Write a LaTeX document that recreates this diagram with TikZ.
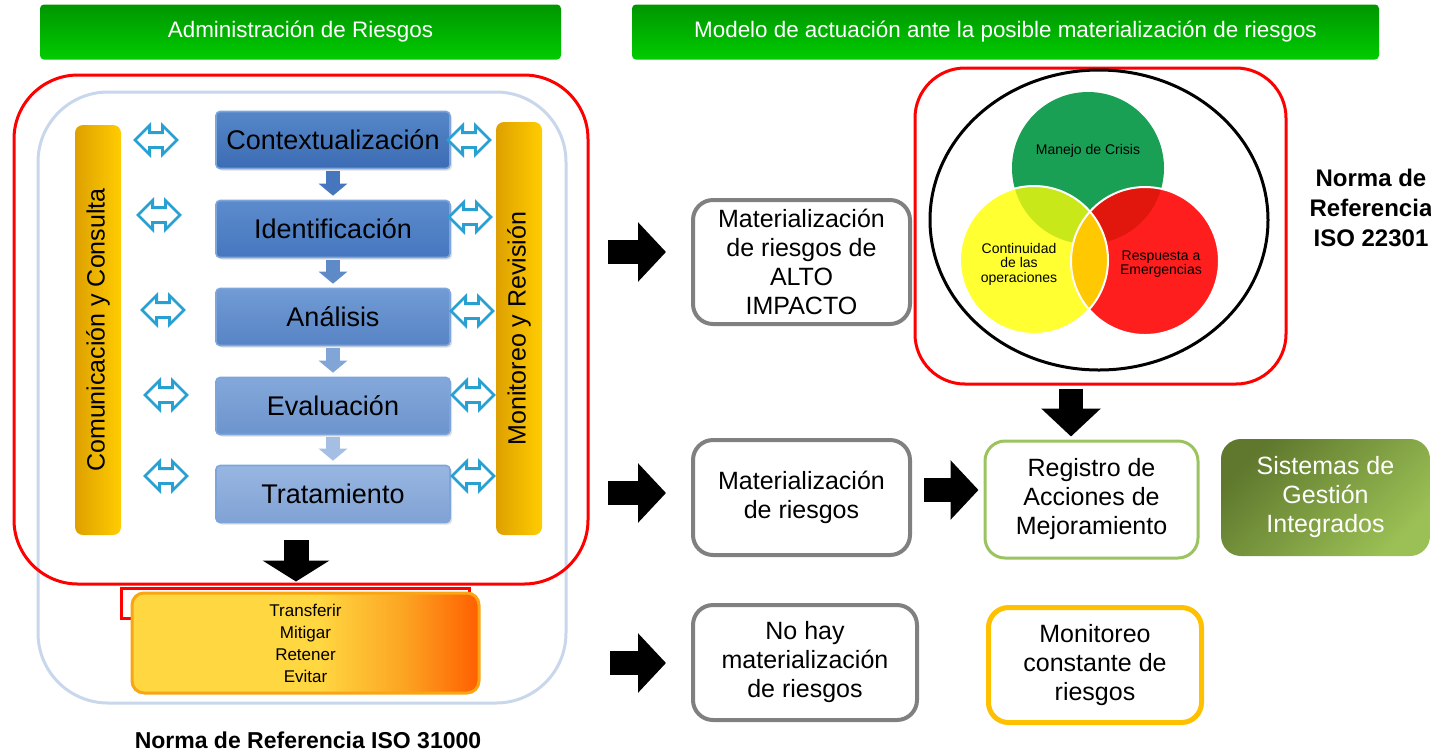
\documentclass[tikz,border=0pt]{standalone}
\usepackage{fontspec}
\setmainfont{Liberation Sans}
\usetikzlibrary{shapes.arrows,arrows.meta,shadows}

\definecolor{hdA}{RGB}{0,150,0}
\definecolor{hdB}{RGB}{0,205,0}
\definecolor{stEdge}{RGB}{125,165,220}
\definecolor{ctxA}{RGB}{85,135,200}
\definecolor{ctxB}{RGB}{60,108,180}
\definecolor{ideA}{RGB}{92,140,205}
\definecolor{ideB}{RGB}{70,118,190}
\definecolor{anaA}{RGB}{112,155,212}
\definecolor{anaB}{RGB}{88,132,198}
\definecolor{evaA}{RGB}{132,168,218}
\definecolor{evaB}{RGB}{108,148,205}
\definecolor{traA}{RGB}{152,182,225}
\definecolor{traB}{RGB}{128,162,212}
\definecolor{barA}{RGB}{255,205,0}
\definecolor{barB}{RGB}{222,160,0}
\definecolor{lnk}{RGB}{40,160,210}
\definecolor{chevA}{RGB}{70,118,190}
\definecolor{chevB}{RGB}{95,138,200}
\definecolor{chevC}{RGB}{130,165,215}
\definecolor{chevD}{RGB}{165,190,228}
\definecolor{paleBlue}{RGB}{200,215,235}
\definecolor{optY}{RGB}{255,215,65}
\definecolor{optM}{RGB}{252,165,35}
\definecolor{optR}{RGB}{255,95,0}
\definecolor{optEdge}{RGB}{250,165,20}
\definecolor{outGray}{RGB}{128,128,128}
\definecolor{regGreen}{RGB}{155,195,95}
\definecolor{monOrange}{RGB}{255,192,0}
\definecolor{sisA}{RGB}{95,120,45}
\definecolor{sisB}{RGB}{155,192,85}
\definecolor{vGreen}{RGB}{25,160,85}
\definecolor{vYellow}{RGB}{255,255,50}
\definecolor{vRed}{RGB}{255,30,30}
\definecolor{vGY}{RGB}{200,232,25}
\definecolor{vGR}{RGB}{225,22,12}
\definecolor{vYR}{RGB}{255,200,0}

\pgfdeclarehorizontalshading{optshade}{100bp}{color(0bp)=(optY); color(52bp)=(optY); color(64bp)=(optM); color(75bp)=(optR); color(100bp)=(optR)}

\begin{document}
\begin{tikzpicture}[x=0.5pt,y=-0.5pt,
    head/.style={rounded corners=2pt, top color=hdA, bottom color=hdB, text=white, minimum height=27.5pt, font=\fontsize{11.2}{13}\selectfont},
    stage/.style={draw=stEdge, line width=0.8pt, rounded corners=2pt, minimum width=117pt, minimum height=28.5pt, font=\fontsize{13.5}{16}\selectfont, drop shadow={opacity=0.25, shadow xshift=1pt, shadow yshift=-1pt}},
    bar/.style={rotate=90, rounded corners=4pt, left color=barB, right color=barA, minimum height=23pt, font=\fontsize{12.5}{15}\selectfont},
    link/.style={double arrow, draw=lnk, line width=1.4pt, fill=white, minimum height=21pt, minimum width=0pt, inner xsep=0pt, inner ysep=3pt, double arrow head extend=3.6pt},
    chev/.style={line width=7pt, -{Triangle[length=6pt, width=14pt]}, shorten <=1pt, shorten >=2pt},
    fat/.style={line width=12pt, -{Triangle[length=14pt, width=29pt]}},
    fatdn/.style={line width=12.5pt, -{Triangle[length=10.5pt, width=33pt]}},
    opt/.style={draw=optEdge, line width=1.5pt, rounded corners=6pt, shade, shading=optshade, minimum width=173.5pt, minimum height=50pt, align=center, font=\fontsize{8.5}{11}\selectfont},
    outbox/.style={draw=outGray, line width=2pt, rounded corners=10pt, fill=white, align=center, inner sep=2pt, font=\fontsize{12.5}{14.5}\selectfont},
    vlab/.style={align=center, inner sep=0pt, font=\fontsize{7}{7.3}\selectfont},
    norma/.style={align=center, font=\fontsize{11.5}{14}\selectfont\bfseries}]
      \useasboundingbox (0,0) rectangle (1431,752);
      \node[head, minimum width=260.5pt] (adm) at (300.5,32) {Administración de Riesgos};
      \node[head, minimum width=373.5pt] (mod) at (1005.5,32) {Modelo de actuación ante la posible materialización de riesgos};
      \draw[paleBlue, line width=1.5pt, rounded corners=35pt] (38,92) rectangle (566,703);
      \draw[red, line width=1.5pt, rounded corners=32pt] (14,75) rectangle (588,584);
      \node[bar, minimum width=205pt] (com) at (98,330) {Comunicación y Consulta};
      \node[bar, minimum width=206.5pt] (rev) at (519,328.5) {Monitoreo y Revisión};
      \node[stage, top color=ctxA, bottom color=ctxB] (ctx) at (333,140) {Contextualización};
      \node[stage, top color=ideA, bottom color=ideB] (ide) at (333,229) {Identificación};
      \node[stage, top color=anaA, bottom color=anaB] (ana) at (333,317) {Análisis};
      \node[stage, top color=evaA, bottom color=evaB] (eva) at (333,406) {Evaluación};
      \node[stage, top color=traA, bottom color=traB] (tra) at (333,494) {Tratamiento};
      \node[link] (l1) at (156,140) {};
      \node[link] (l2) at (159,215) {};
      \node[link] (l3) at (163,310) {};
      \node[link] (l4) at (166,395) {};
      \node[link] (l5) at (166,476) {};
      \node[link] (r1) at (469,140) {};
      \node[link] (r2) at (470,217) {};
      \node[link] (r3) at (472,311) {};
      \node[link] (r4) at (473,395) {};
      \node[link] (r5) at (473,476) {};
      \path (ctx) edge[chev, chevA] (ide);
      \path (ide) edge[chev, chevB] (ana);
      \path (ana) edge[chev, chevC] (eva);
      \path (eva) edge[chev, chevD] (tra);
      \draw[red, line width=1.5pt] (121,588) rectangle (469,618);
      \node[opt] (opts) at (305.5,643) {Transferir\\Mitigar\\Retener\\Evitar};
      \coordinate (d0) at (296,540);
      \path (d0) edge[fatdn, shorten >=5pt] (d0 |- opts.north);
      \node[norma] (iso31) at (308,740) {Norma de Referencia ISO 31000};

      \node[draw=red, line width=1.5pt, rounded corners=25pt, minimum width=185.5pt, minimum height=158pt] (frame) at (1100.5,226) {};
      \draw[line width=1.5pt] (1099,220) ellipse (169 and 150);
      \fill[vGreen] (1088,168) circle (76);
      \fill[vYellow] (1034,260) circle (74);
      \fill[vRed] (1145,261) circle (74);
      \begin{scope}
        \clip (1088,168) circle (76);
        \fill[vGY] (1034,260) circle (74);
        \fill[vGR] (1145,261) circle (74);
      \end{scope}
      \begin{scope}
        \clip (1034,260) circle (74);
        \fill[vYR] (1145,261) circle (74);
      \end{scope}
      \draw[white, line width=1pt] (1034,260) circle (74);
      \draw[white, line width=1pt] (1145,261) circle (74);
      \node[vlab] (crisis) at (1088,151) {Manejo de Crisis};
      \node[vlab] (cont) at (1019,264) {Continuidad\\de las\\operaciones};
      \node[vlab] (resp) at (1161,264) {Respuesta a\\Emergencias};
      \node[norma, font=\fontsize{12}{15}\selectfont\bfseries] (iso22) at (1371,208) {Norma de\\Referencia\\ISO 22301};

      \node[outbox, minimum width=108.5pt, minimum height=62pt] (alto) at (801.5,262) {Materialización\\de riesgos de\\ALTO\\IMPACTO};
      \node[outbox, minimum width=108.5pt, minimum height=57.5pt] (mat) at (801.5,497.5) {Materialización\\de riesgos};
      \node[outbox, minimum width=112pt, minimum height=57.5pt] (noh) at (805,662.5) {No hay\\materialización\\de riesgos};
      \node[outbox, draw=regGreen, line width=1.5pt, minimum width=106.5pt, minimum height=58.5pt] (reg) at (1091.5,499.5) {Registro de\\Acciones de\\Mejoramiento};
      \node[outbox, draw=none, top color=sisA, bottom color=sisB, shading angle=45, text=white, minimum width=104.5pt, minimum height=58.5pt] (sis) at (1325.5,497.5) {Sistemas de\\Gestión\\Integrados};
      \node[outbox, draw=monOrange, line width=2.5pt, minimum width=106.5pt, minimum height=57.5pt] (mon) at (1095,665) {Monitoreo\\constante de\\riesgos};
      \coordinate (p1) at (608,252);
      \coordinate (p2) at (608,493);
      \coordinate (p3) at (610,663);
      \path (p1) edge[fat, shorten >=12.5pt] (p1 -| alto.west);
      \path (p2) edge[fat, shorten >=12.5pt] (p2 -| mat.west);
      \path (p3) edge[fat, shorten >=12.5pt] (p3 -| noh.west);
      \path ([yshift=3.75pt]mat.east) edge[fat, shorten <=6pt, shorten >=2.5pt] ([yshift=3.75pt]mat.east -| reg.west);
      \path ([xshift=-14.75pt]frame.south) edge[fat, shorten <=1.5pt, shorten >=1.5pt] ([xshift=-14.75pt]frame.south |- reg.north);
\end{tikzpicture}
\end{document}
